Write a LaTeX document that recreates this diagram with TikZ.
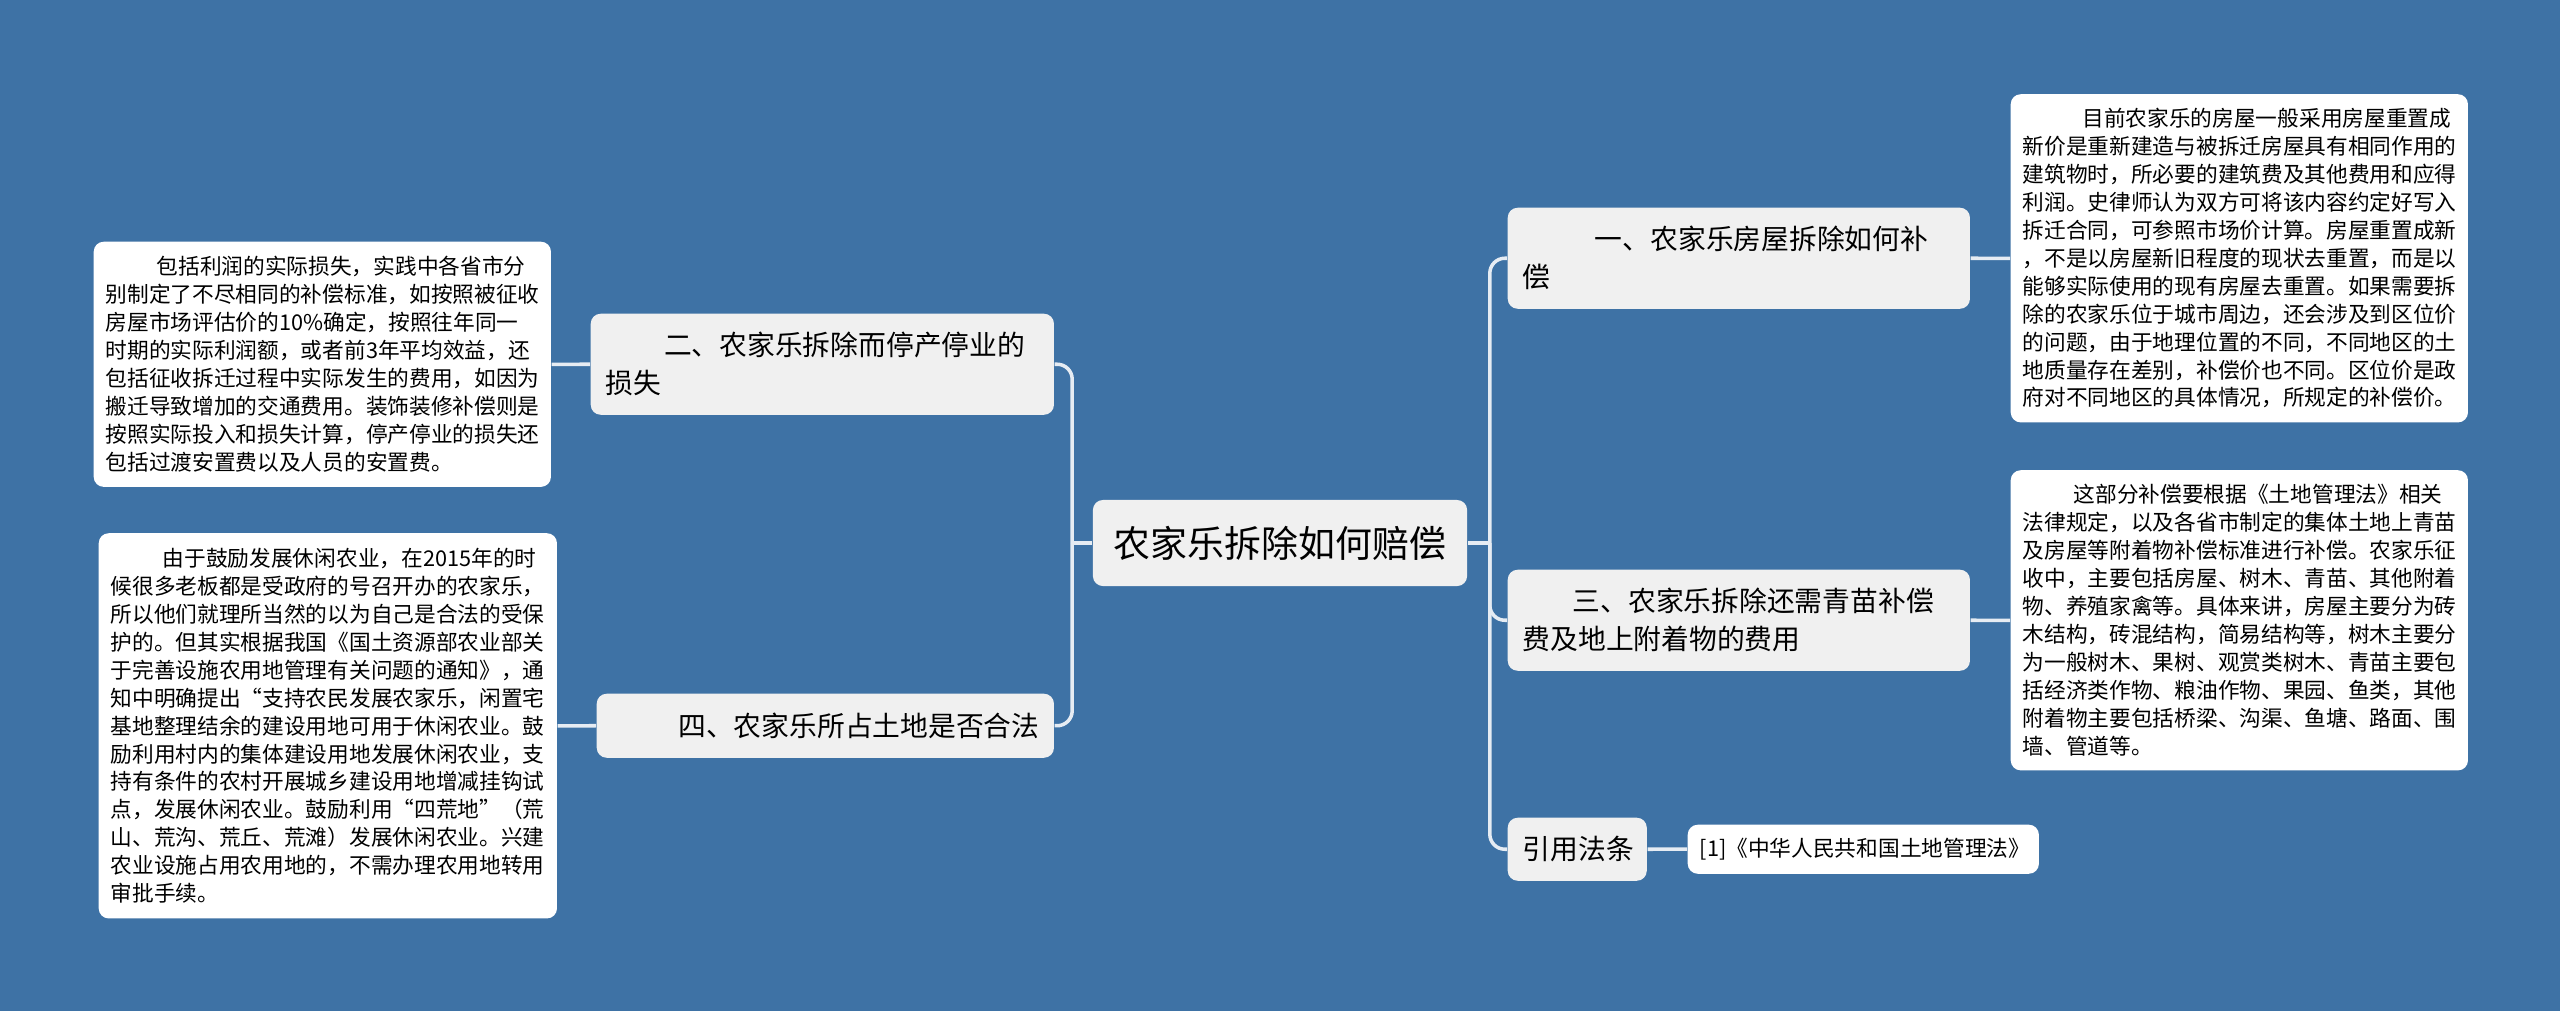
\documentclass[tikz,border=0pt]{standalone}
\usepackage{fontspec}
\setmainfont{Noto Sans CJK SC}
\definecolor{sfondo}{HTML}{3E72A5}
\definecolor{grigio}{HTML}{F0F0F0}
\definecolor{linea}{HTML}{E6ECF3}

\begin{document}
\begin{tikzpicture}[x=0.01cm, y=-0.01cm,
  link/.style={draw=linea, line width=1pt, rounded corners=0.15cm},
  rootbox/.style={fill=grigio, rounded corners=0.1cm, minimum width=3.74cm, minimum height=0.86cm, inner sep=0pt, font=\fontsize{10.5}{13}\selectfont},
  topicbox/.style={fill=grigio, rounded corners=0.1cm, anchor=north west, align=left, inner xsep=0.15cm, inner ysep=0pt, font=\fontsize{7.9}{10.8}\selectfont},
  notebox/.style={fill=white, rounded corners=0.1cm, anchor=north west, align=left, inner xsep=0.12cm, inner ysep=0pt, font=\fontsize{6.17}{7.94}\selectfont}]

% sfondo
\fill[sfondo] (0,0) rectangle (2560,1011);

% nodo centrale
\node[rootbox] (root) at (1280,543) {农家乐拆除如何赔偿};

% rami a sinistra
\node[topicbox, text width=4.33cm, minimum height=1.01cm] (t2) at (590,313) {\hspace*{2.1em}二、农家乐拆除而停产停业的\\损失};
\node[topicbox, text width=4.27cm, minimum height=0.64cm] (t4) at (596,693) {\hspace*{2.4em}四、农家乐所占土地是否合法};

% rami a destra
\node[topicbox, text width=4.32cm, minimum height=1.01cm] (t1) at (1507,207) {\hspace*{2.6em}一、农家乐房屋拆除如何补\\偿};
\node[topicbox, text width=4.32cm, minimum height=1.01cm] (t3) at (1507,569) {\hspace*{1.8em}三、农家乐拆除还需青苗补偿\\费及地上附着物的费用};
\node[topicbox, text width=1.09cm, minimum height=0.63cm] (cite) at (1507,817) {引用法条};

% foglie
\node[notebox, text width=4.33cm, minimum height=2.45cm] (n2) at (93,241) {\hspace*{2.35em}包括利润的实际损失，实践中各省市分\\别制定了不尽相同的补偿标准，如按照被征收\\房屋市场评估价的10\%确定，按照往年同一\\时期的实际利润额，或者前3年平均效益，还\\包括征收拆迁过程中实际发生的费用，如因为\\搬迁导致增加的交通费用。装饰装修补偿则是\\按照实际投入和损失计算，停产停业的损失还\\包括过渡安置费以及人员的安置费。};
\node[notebox, text width=4.34cm, minimum height=3.85cm] (n4) at (98,532.5) {\hspace*{2.4em}由于鼓励发展休闲农业，在2015年的时\\候很多老板都是受政府的号召开办的农家乐，\\所以他们就理所当然的以为自己是合法的受保\\护的。但其实根据我国《国土资源部农业部关\\于完善设施农用地管理有关问题的通知》，通\\知中明确提出“支持农民发展农家乐，闲置宅\\基地整理结余的建设用地可用于休闲农业。鼓\\励利用村内的集体建设用地发展休闲农业，支\\持有条件的农村开展城乡建设用地增减挂钩试\\点，发展休闲农业。鼓励利用“四荒地”（荒\\山、荒沟、荒丘、荒滩）发展休闲农业。兴建\\农业设施占用农用地的，不需办理农用地转用\\审批手续。};
\node[notebox, text width=4.33cm, minimum height=3.28cm] (n1) at (2010,93.5) {\hspace*{2.75em}目前农家乐的房屋一般采用房屋重置成\\新价是重新建造与被拆迁房屋具有相同作用的\\建筑物时，所必要的建筑费及其他费用和应得\\利润。史律师认为双方可将该内容约定好写入\\拆迁合同，可参照市场价计算。房屋重置成新\\，不是以房屋新旧程度的现状去重置，而是以\\能够实际使用的现有房屋去重置。如果需要拆\\除的农家乐位于城市周边，还会涉及到区位价\\的问题，由于地理位置的不同，不同地区的土\\地质量存在差别，补偿价也不同。区位价是政\\府对不同地区的具体情况，所规定的补偿价。};
\node[notebox, text width=4.33cm, minimum height=3.00cm] (n3) at (2010,469.5) {\hspace*{2.35em}这部分补偿要根据《土地管理法》相关\\法律规定，以及各省市制定的集体土地上青苗\\及房屋等附着物补偿标准进行补偿。农家乐征\\收中，主要包括房屋、树木、青苗、其他附着\\物、养殖家禽等。具体来讲，房屋主要分为砖\\木结构，砖混结构，简易结构等，树木主要分\\为一般树木、果树、观赏类树木、青苗主要包\\括经济类作物、粮油作物、果园、鱼类，其他\\附着物主要包括桥梁、沟渠、鱼塘、路面、围\\墙、管道等。};
\node[notebox, text width=3.27cm, minimum height=0.49cm] (law) at (1687,824) {[1]《中华人民共和国土地管理法》};

% collegamenti
\path (root.west) ++(-20,0) coordinate (lhub);
\path (root.east) ++(22,0) coordinate (rhub);
\draw[link] (root.west) -- (lhub);
\draw[link] (root.east) -- (rhub);
\draw[link] (lhub) |- (t2.east);
\draw[link] (lhub) |- (t4.east);
\draw[link] (rhub) |- (t1.west);
\draw[link] (rhub) |- (t3.west);
\draw[link] (rhub) |- (cite.west);
\draw[link] (t2.west) -- (n2.east);
\draw[link] (t4.west) -- (n4.east);
\draw[link] (t1.east) -- (n1.west);
\draw[link] (t3.east) -- (n3.west);
\draw[link] (cite.east) -- (law.west);

\end{tikzpicture}
\end{document}
